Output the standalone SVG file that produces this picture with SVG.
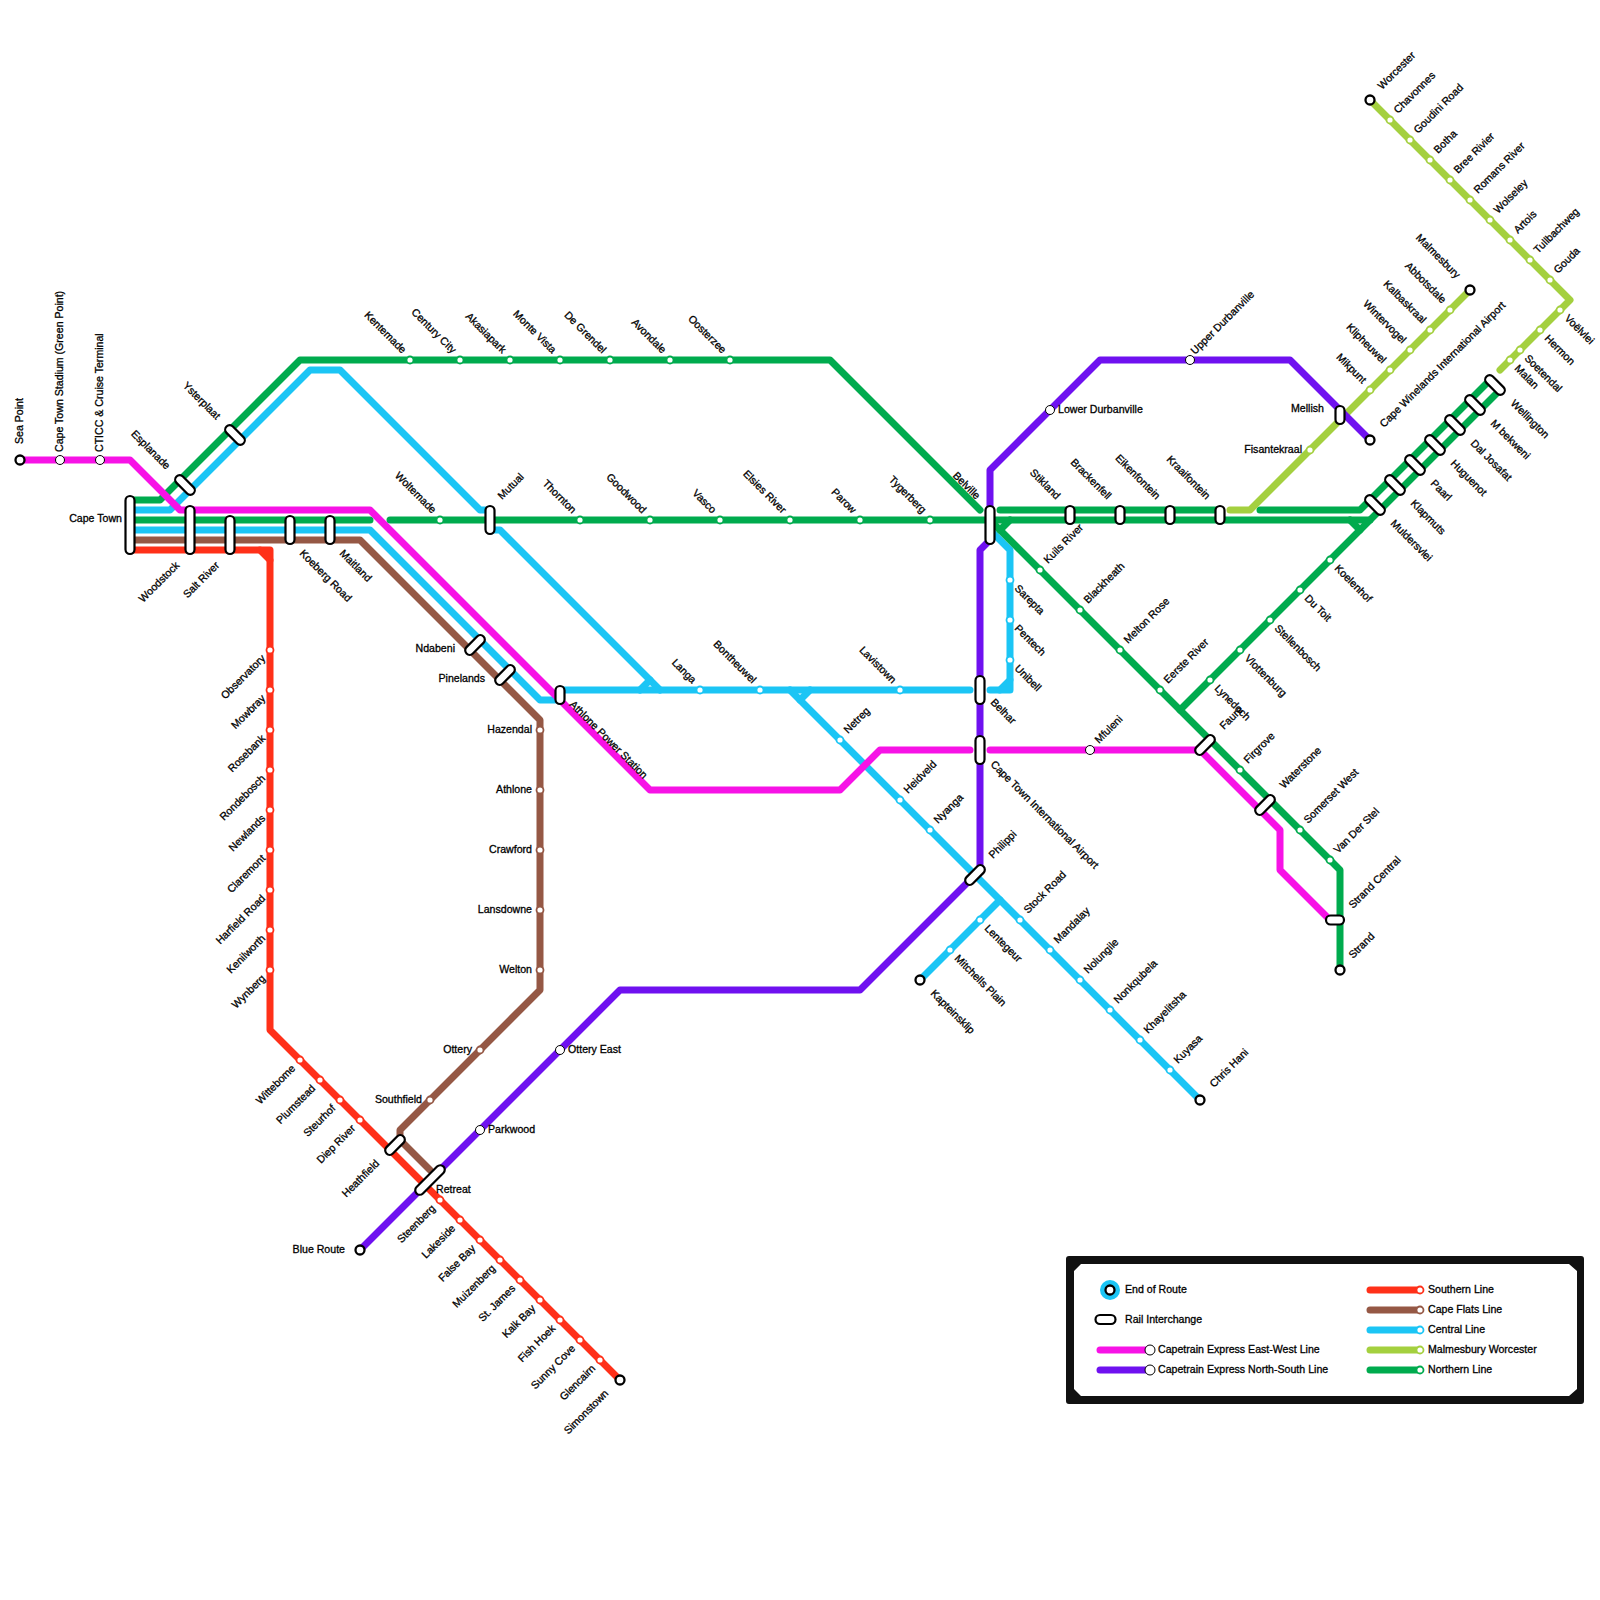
<svg xmlns="http://www.w3.org/2000/svg" width="1600" height="1600" viewBox="0 0 1600 1600">
<style>
text{font-family:"Liberation Sans",Arial,sans-serif;font-size:10.6px;fill:#000;stroke:#000;stroke-width:.3}
.e{text-anchor:end}
.l{fill:none;stroke-width:7;stroke-linecap:round;stroke-linejoin:round}
.M{stroke:#f712e6}.P{stroke:#6f11f0}.R{stroke:#ff3019}.B{stroke:#955845}.C{stroke:#1bc5f5}.L{stroke:#a4d03f}.G{stroke:#00ab4e}
.s{fill:#fff;stroke-width:1.8;r:3.5px}
.w{fill:#fff;stroke:#000;stroke-width:1}
.t{fill:#fff;stroke:#000;stroke-width:2.3;r:4.5px}
.p{fill:#fff;stroke:#000;stroke-width:2.2}
</style>
<rect width="1600" height="1600" fill="#fff"/>
<g id="connectors">
<g class="l C">
<polyline points="130,510 170,510 310,370 340,370 480,510 490,510"/>
<polyline points="490,530 500,530 660,690"/>
<polyline points="640,690 650,680"/>
<polyline points="130,530 370,530 540,700 555,700"/>
<polyline points="560,690 970,690"/>
<polyline points="990,690 1000,690 1010,680 1010,550 990,530"/>
<polyline points="1000,690 1010,690 1010,680"/>
<polyline points="790,690 1200,1100"/>
<polyline points="800,700 810,690"/>
<polyline points="1000,900 920,980"/>
</g>
<g class="l G">
<polyline points="130,500 160,500 300,360 830,360 980,510"/>
<polyline points="130,520 370,520"/>
<polyline points="390,520 1370,520"/>
<polyline points="1000,510 1220,510"/>
<polyline points="1260,510 1360,510 1490,380"/>
<polyline points="990,520 1340,870 1340,970"/>
<polyline points="1180,710 1500,390"/>
<polyline points="1000,530 1010,520"/>
<polyline points="1350,520 1360,530"/>
</g>
<g class="l L">
<polyline points="1370,100 1570,300 1500,370"/>
<polyline points="1470,290 1250,510 1230,510"/>
</g>
<g class="l B"><polyline points="130,540 360,540 540,720 540,990 400,1130 400,1140 430,1170"/></g>
<g class="l R">
<polyline points="130,550 260,550 270,560 270,1030 620,1380"/>
<polyline points="260,550 270,550 270,560"/>
</g>
<g class="l P">
<polyline points="360,1250 620,990 860,990 980,870 980,550 990,540"/>
<polyline points="990,520 990,470 1100,360 1290,360 1370,440"/>
</g>
<g class="l M">
<polyline points="20,460 130,460 180,510 370,510 650,790 840,790 880,750 970,750"/>
<polyline points="990,750 1200,750 1280,830 1280,870 1330,920"/>
</g>
</g>

<g id="n-sea-point"><circle class="t" cx="20" cy="460" r="4"/><text transform="translate(23 444) rotate(-90)">Sea Point</text></g>
<g id="n-stadium"><circle class="w" cx="60" cy="460" r="4.5"/><text transform="translate(63 452) rotate(-90)">Cape Town Stadium (Green Point)</text></g>
<g id="n-cticc"><circle class="w" cx="100" cy="460" r="4.5"/><text transform="translate(103 452) rotate(-90)">CTICC &amp; Cruise Terminal</text></g>
<g id="n-cape-town"><rect class="p" x="125.5" y="496" width="9" height="58" rx="4.5"/><text class="e" x="122" y="522">Cape Town</text></g>
<g id="n-esplanade"><rect class="p" transform="translate(185 485) rotate(45)" x="-12" y="-4.5" width="24" height="9" rx="4.5"/><text class="e" transform="translate(166 470) rotate(45)">Esplanade</text></g>
<g id="n-ysterplaat"><rect class="p" transform="translate(235 435) rotate(45)" x="-12" y="-4.5" width="24" height="9" rx="4.5"/><text class="e" transform="translate(216 420) rotate(45)">Ysterplaat</text></g>
<g id="n-woodstock"><rect class="p" x="185.5" y="506" width="9" height="48" rx="4.5"/><text class="e" transform="translate(180 566) rotate(-45)">Woodstock</text></g>
<g id="n-salt-river"><rect class="p" x="225.5" y="516" width="9" height="38" rx="4.5"/><text class="e" transform="translate(220 566) rotate(-45)">Salt River</text></g>
<g id="n-koeberg"><rect class="p" x="285.5" y="516" width="9" height="28" rx="4.5"/><text transform="translate(299 554) rotate(45)">Koeberg Road</text></g>
<g id="n-maitland"><rect class="p" x="325.5" y="516" width="9" height="28" rx="4.5"/><text transform="translate(339 554) rotate(45)">Maitland</text></g>
<g id="n-ndabeni"><rect class="p" transform="translate(475 645) rotate(-45)" x="-12" y="-4.5" width="24" height="9" rx="4.5"/><text class="e" x="455" y="652">Ndabeni</text></g>
<g id="n-pinelands"><rect class="p" transform="translate(505 675) rotate(-45)" x="-12" y="-4.5" width="24" height="9" rx="4.5"/><text class="e" x="485" y="682">Pinelands</text></g>
<g id="n-athlone-ps"><rect class="p" x="555.5" y="686" width="9" height="18" rx="4.5"/><text transform="translate(569 705) rotate(45)">Athlone Power Station</text></g>
<g id="n-mutual"><rect class="p" x="485.5" y="506" width="9" height="28" rx="4.5"/><text transform="translate(502 500) rotate(-45)">Mutual</text></g>

<g id="n-hazendal"><circle class="s B" cx="540" cy="730" r="3"/><text class="e" x="532" y="733">Hazendal</text></g>
<g id="n-athlone"><circle class="s B" cx="540" cy="790" r="3"/><text class="e" x="532" y="793">Athlone</text></g>
<g id="n-crawford"><circle class="s B" cx="540" cy="850" r="3"/><text class="e" x="532" y="853">Crawford</text></g>
<g id="n-lansdowne"><circle class="s B" cx="540" cy="910" r="3"/><text class="e" x="532" y="913">Lansdowne</text></g>
<g id="n-welton"><circle class="s B" cx="540" cy="970" r="3"/><text class="e" x="532" y="973">Welton</text></g>
<g id="n-ottery"><circle class="s B" cx="480" cy="1050" r="3"/><text class="e" x="472" y="1053">Ottery</text></g>
<g id="n-southfield"><circle class="s B" cx="430" cy="1100" r="3"/><text class="e" x="422" y="1103">Southfield</text></g>

<g id="n-observatory"><circle class="s R" cx="270" cy="650" r="3"/><text class="e" transform="translate(266 659) rotate(-45)">Observatory</text></g>
<g id="n-mowbray"><circle class="s R" cx="270" cy="690" r="3"/><text class="e" transform="translate(266 699) rotate(-45)">Mowbray</text></g>
<g id="n-rosebank"><circle class="s R" cx="270" cy="730" r="3"/><text class="e" transform="translate(266 739) rotate(-45)">Rosebank</text></g>
<g id="n-rondebosch"><circle class="s R" cx="270" cy="770" r="3"/><text class="e" transform="translate(266 779) rotate(-45)">Rondebosch</text></g>
<g id="n-newlands"><circle class="s R" cx="270" cy="810" r="3"/><text class="e" transform="translate(266 819) rotate(-45)">Newlands</text></g>
<g id="n-claremont"><circle class="s R" cx="270" cy="850" r="3"/><text class="e" transform="translate(266 859) rotate(-45)">Claremont</text></g>
<g id="n-harfield"><circle class="s R" cx="270" cy="890" r="3"/><text class="e" transform="translate(266 899) rotate(-45)">Harfield Road</text></g>
<g id="n-kenilworth"><circle class="s R" cx="270" cy="930" r="3"/><text class="e" transform="translate(266 939) rotate(-45)">Kenilworth</text></g>
<g id="n-wynberg"><circle class="s R" cx="270" cy="970" r="3"/><text class="e" transform="translate(266 979) rotate(-45)">Wynberg</text></g>
<g id="n-wittebome"><circle class="s R" cx="300" cy="1060" r="3"/><text class="e" transform="translate(296 1069) rotate(-45)">Wittebome</text></g>
<g id="n-plumstead"><circle class="s R" cx="320" cy="1080" r="3"/><text class="e" transform="translate(316 1089) rotate(-45)">Plumstead</text></g>
<g id="n-steurhof"><circle class="s R" cx="340" cy="1100" r="3"/><text class="e" transform="translate(336 1109) rotate(-45)">Steurhof</text></g>
<g id="n-diep-river"><circle class="s R" cx="360" cy="1120" r="3"/><text class="e" transform="translate(356 1129) rotate(-45)">Diep River</text></g>
<g id="n-heathfield"><rect class="p" transform="translate(395 1145) rotate(-45)" x="-12" y="-4.5" width="24" height="9" rx="4.5"/><text class="e" transform="translate(380 1164) rotate(-45)">Heathfield</text></g>
<g id="n-retreat"><rect class="p" transform="translate(430 1180) rotate(-45)" x="-19" y="-4.5" width="38" height="9" rx="4.5"/><text x="436" y="1193">Retreat</text></g>
<g id="n-steenberg"><circle class="s R" cx="440" cy="1200" r="3"/><text class="e" transform="translate(436 1209) rotate(-45)">Steenberg</text></g>
<g id="n-lakeside"><circle class="s R" cx="460" cy="1220" r="3"/><text class="e" transform="translate(456 1229) rotate(-45)">Lakeside</text></g>
<g id="n-false-bay"><circle class="s R" cx="480" cy="1240" r="3"/><text class="e" transform="translate(476 1249) rotate(-45)">False Bay</text></g>
<g id="n-muizenberg"><circle class="s R" cx="500" cy="1260" r="3"/><text class="e" transform="translate(496 1269) rotate(-45)">Muizenberg</text></g>
<g id="n-st-james"><circle class="s R" cx="520" cy="1280" r="3"/><text class="e" transform="translate(516 1289) rotate(-45)">St. James</text></g>
<g id="n-kalk-bay"><circle class="s R" cx="540" cy="1300" r="3"/><text class="e" transform="translate(536 1309) rotate(-45)">Kalk Bay</text></g>
<g id="n-fish-hoek"><circle class="s R" cx="560" cy="1320" r="3"/><text class="e" transform="translate(556 1329) rotate(-45)">Fish Hoek</text></g>
<g id="n-sunny-cove"><circle class="s R" cx="580" cy="1340" r="3"/><text class="e" transform="translate(576 1349) rotate(-45)">Sunny Cove</text></g>
<g id="n-glencairn"><circle class="s R" cx="600" cy="1360" r="3"/><text class="e" transform="translate(596 1369) rotate(-45)">Glencairn</text></g>
<g id="n-simonstown"><circle class="t" cx="620" cy="1380" r="4"/><text class="e" transform="translate(609 1394) rotate(-45)">Simonstown</text></g>

<g id="n-blue-route"><circle class="t" cx="360" cy="1250" r="4"/><text class="e" x="345" y="1253">Blue Route</text></g>
<g id="n-parkwood"><circle class="w" cx="480" cy="1130" r="4.5"/><text x="488" y="1133">Parkwood</text></g>
<g id="n-ottery-east"><circle class="w" cx="560" cy="1050" r="4.5"/><text x="568" y="1053">Ottery East</text></g>
<g id="n-lower-durbanville"><circle class="w" cx="1050" cy="410" r="4.5"/><text x="1058" y="413">Lower Durbanville</text></g>
<g id="n-upper-durbanville"><circle class="w" cx="1190" cy="360" r="4.5"/><text transform="translate(1195 355) rotate(-45)">Upper Durbanville</text></g>
<g id="n-cwia"><circle class="t" cx="1370" cy="440" r="4"/><text transform="translate(1384 428) rotate(-45)">Cape Winelands International Airport</text></g>
<g id="n-mellish"><rect class="p" x="1335.5" y="406" width="9" height="18" rx="4.5"/><text class="e" x="1324" y="412">Mellish</text></g>

<g id="n-kentemade"><circle class="s G" cx="410" cy="360" r="3"/><text class="e" transform="translate(402 354) rotate(45)">Kentemade</text></g>
<g id="n-century-city"><circle class="s G" cx="460" cy="360" r="3"/><text class="e" transform="translate(452 354) rotate(45)">Century City</text></g>
<g id="n-akasiapark"><circle class="s G" cx="510" cy="360" r="3"/><text class="e" transform="translate(502 354) rotate(45)">Akasiapark</text></g>
<g id="n-monte-vista"><circle class="s G" cx="560" cy="360" r="3"/><text class="e" transform="translate(552 354) rotate(45)">Monte Vista</text></g>
<g id="n-de-grendel"><circle class="s G" cx="610" cy="360" r="3"/><text class="e" transform="translate(602 354) rotate(45)">De Grendel</text></g>
<g id="n-avondale"><circle class="s G" cx="670" cy="360" r="3"/><text class="e" transform="translate(662 354) rotate(45)">Avondale</text></g>
<g id="n-oosterzee"><circle class="s G" cx="730" cy="360" r="3"/><text class="e" transform="translate(722 354) rotate(45)">Oosterzee</text></g>
<g id="n-woltemade"><circle class="s G" cx="440" cy="520" r="3"/><text class="e" transform="translate(432 514) rotate(45)">Woltemade</text></g>
<g id="n-thornton"><circle class="s G" cx="580" cy="520" r="3"/><text class="e" transform="translate(572 514) rotate(45)">Thornton</text></g>
<g id="n-goodwood"><circle class="s G" cx="650" cy="520" r="3"/><text class="e" transform="translate(642 514) rotate(45)">Goodwood</text></g>
<g id="n-vasco"><circle class="s G" cx="720" cy="520" r="3"/><text class="e" transform="translate(712 514) rotate(45)">Vasco</text></g>
<g id="n-elsies"><circle class="s G" cx="790" cy="520" r="3"/><text class="e" transform="translate(782 514) rotate(45)">Elsies River</text></g>
<g id="n-parow"><circle class="s G" cx="860" cy="520" r="3"/><text class="e" transform="translate(852 514) rotate(45)">Parow</text></g>
<g id="n-tygerberg"><circle class="s G" cx="930" cy="520" r="3"/><text class="e" transform="translate(922 514) rotate(45)">Tygerberg</text></g>
<g id="n-belville"><rect class="p" x="985.5" y="506" width="9" height="38" rx="4.5"/><text class="e" transform="translate(976 500) rotate(45)">Belville</text></g>
<g id="n-stikland"><rect class="p" x="1065.5" y="506" width="9" height="18" rx="4.5"/><text class="e" transform="translate(1056 500) rotate(45)">Stikland</text></g>
<g id="n-brackenfell"><rect class="p" x="1115.5" y="506" width="9" height="18" rx="4.5"/><text class="e" transform="translate(1107 500) rotate(45)">Brackenfell</text></g>
<g id="n-eikenfontein"><rect class="p" x="1165.5" y="506" width="9" height="18" rx="4.5"/><text class="e" transform="translate(1156 500) rotate(45)">Eikenfontein</text></g>
<g id="n-kraaifontein"><rect class="p" x="1215.5" y="506" width="9" height="18" rx="4.5"/><text class="e" transform="translate(1206 500) rotate(45)">Kraaifontein</text></g>

<g id="n-kuils"><circle class="s G" cx="1040" cy="570" r="3"/><text transform="translate(1048 564) rotate(-45)">Kuils River</text></g>
<g id="n-blackheath"><circle class="s G" cx="1080" cy="610" r="3"/><text transform="translate(1088 604) rotate(-45)">Blackheath</text></g>
<g id="n-melton"><circle class="s G" cx="1120" cy="650" r="3"/><text transform="translate(1128 644) rotate(-45)">Melton Rose</text></g>
<g id="n-eerste"><circle class="s G" cx="1160" cy="690" r="3"/><text transform="translate(1168 684) rotate(-45)">Eerste River</text></g>
<g id="n-faure"><rect class="p" transform="translate(1205 745) rotate(-45)" x="-12" y="-4.5" width="24" height="9" rx="4.5"/><text transform="translate(1224 730) rotate(-45)">Faure</text></g>
<g id="n-firgrove"><circle class="s G" cx="1240" cy="770" r="3"/><text transform="translate(1248 764) rotate(-45)">Firgrove</text></g>
<g id="n-waterstone"><rect class="p" transform="translate(1265 805) rotate(-45)" x="-12" y="-4.5" width="24" height="9" rx="4.5"/><text transform="translate(1284 789) rotate(-45)">Waterstone</text></g>
<g id="n-somerset"><circle class="s G" cx="1300" cy="830" r="3"/><text transform="translate(1308 824) rotate(-45)">Somerset West</text></g>
<g id="n-vds"><circle class="s G" cx="1330" cy="860" r="3"/><text transform="translate(1338 854) rotate(-45)">Van Der Stel</text></g>
<g id="n-strand-central"><rect class="p" x="1326" y="915.5" width="18" height="9" rx="4.5"/><text transform="translate(1353 909) rotate(-45)">Strand Central</text></g>
<g id="n-strand"><circle class="t" cx="1340" cy="970" r="4"/><text transform="translate(1353 959) rotate(-45)">Strand</text></g>
<g id="n-koelenhof"><circle class="s G" cx="1330" cy="560" r="3"/><text transform="translate(1334 569) rotate(45)">Koelenhof</text></g>
<g id="n-du-toit"><circle class="s G" cx="1300" cy="590" r="3"/><text transform="translate(1304 599) rotate(45)">Du Toit</text></g>
<g id="n-stellenbosch"><circle class="s G" cx="1270" cy="620" r="3"/><text transform="translate(1274 629) rotate(45)">Stellenbosch</text></g>
<g id="n-vlottenburg"><circle class="s G" cx="1240" cy="650" r="3"/><text transform="translate(1244 659) rotate(45)">Vlottenburg</text></g>
<g id="n-lynedoch"><circle class="s G" cx="1210" cy="680" r="3"/><text transform="translate(1214 689) rotate(45)">Lynedoch</text></g>
<g id="n-muldersvlei"><rect class="p" transform="translate(1375 505) rotate(45)" x="-12" y="-4.5" width="24" height="9" rx="4.5"/><text transform="translate(1390 524) rotate(45)">Muldersvlei</text></g>
<g id="n-klapmuts"><rect class="p" transform="translate(1395 485) rotate(45)" x="-12" y="-4.5" width="24" height="9" rx="4.5"/><text transform="translate(1410 504) rotate(45)">Klapmuts</text></g>
<g id="n-paarl"><rect class="p" transform="translate(1415 465) rotate(45)" x="-12" y="-4.5" width="24" height="9" rx="4.5"/><text transform="translate(1430 484) rotate(45)">Paarl</text></g>
<g id="n-huguenot"><rect class="p" transform="translate(1435 445) rotate(45)" x="-12" y="-4.5" width="24" height="9" rx="4.5"/><text transform="translate(1450 464) rotate(45)">Huguenot</text></g>
<g id="n-dal-josafat"><rect class="p" transform="translate(1455 425) rotate(45)" x="-12" y="-4.5" width="24" height="9" rx="4.5"/><text transform="translate(1470 444) rotate(45)">Dal Josafat</text></g>
<g id="n-mbekweni"><rect class="p" transform="translate(1475 405) rotate(45)" x="-12" y="-4.5" width="24" height="9" rx="4.5"/><text transform="translate(1490 424) rotate(45)">M bekweni</text></g>
<g id="n-wellington"><rect class="p" transform="translate(1495 385) rotate(45)" x="-12" y="-4.5" width="24" height="9" rx="4.5"/><text transform="translate(1510 404) rotate(45)">Wellington</text></g>

<g id="n-malan"><circle class="s L" cx="1510" cy="360" r="3"/><text transform="translate(1514 369) rotate(45)">Malan</text></g>
<g id="n-soetendal"><circle class="s L" cx="1520" cy="350" r="3"/><text transform="translate(1524 359) rotate(45)">Soetendal</text></g>
<g id="n-hermon"><circle class="s L" cx="1540" cy="330" r="3"/><text transform="translate(1544 339) rotate(45)">Hermon</text></g>
<g id="n-voelvlei"><circle class="s L" cx="1560" cy="310" r="3"/><text transform="translate(1564 319) rotate(45)">Voëlvlei</text></g>
<g id="n-worcester"><circle class="t" cx="1370" cy="100" r="4"/><text transform="translate(1382 90) rotate(-45)">Worcester</text></g>
<g id="n-chavonnes"><circle class="s L" cx="1390" cy="120" r="3"/><text transform="translate(1398 114) rotate(-45)">Chavonnes</text></g>
<g id="n-goudini"><circle class="s L" cx="1410" cy="140" r="3"/><text transform="translate(1418 134) rotate(-45)">Goudini Road</text></g>
<g id="n-botha"><circle class="s L" cx="1430" cy="160" r="3"/><text transform="translate(1438 154) rotate(-45)">Botha</text></g>
<g id="n-bree"><circle class="s L" cx="1450" cy="180" r="3"/><text transform="translate(1458 174) rotate(-45)">Bree Rivier</text></g>
<g id="n-romans"><circle class="s L" cx="1470" cy="200" r="3"/><text transform="translate(1478 194) rotate(-45)">Romans River</text></g>
<g id="n-wolseley"><circle class="s L" cx="1490" cy="220" r="3"/><text transform="translate(1498 214) rotate(-45)">Wolseley</text></g>
<g id="n-artois"><circle class="s L" cx="1510" cy="240" r="3"/><text transform="translate(1518 234) rotate(-45)">Artois</text></g>
<g id="n-tullbachweg"><circle class="s L" cx="1530" cy="260" r="3"/><text transform="translate(1538 254) rotate(-45)">Tullbachweg</text></g>
<g id="n-gouda"><circle class="s L" cx="1550" cy="280" r="3"/><text transform="translate(1558 274) rotate(-45)">Gouda</text></g>
<g id="n-malmesbury"><circle class="t" cx="1470" cy="290" r="4"/><text class="e" transform="translate(1456 279) rotate(45)">Malmesbury</text></g>
<g id="n-abbotsdale"><circle class="s L" cx="1450" cy="310" r="3"/><text class="e" transform="translate(1442 304) rotate(45)">Abbotsdale</text></g>
<g id="n-kalbaskraal"><circle class="s L" cx="1430" cy="330" r="3"/><text class="e" transform="translate(1422 324) rotate(45)">Kalbaskraal</text></g>
<g id="n-wintervogel"><circle class="s L" cx="1410" cy="350" r="3"/><text class="e" transform="translate(1402 344) rotate(45)">Wintervogel</text></g>
<g id="n-klipheuwel"><circle class="s L" cx="1390" cy="370" r="3"/><text class="e" transform="translate(1382 364) rotate(45)">Klipheuwel</text></g>
<g id="n-mikpunt"><circle class="s L" cx="1370" cy="390" r="3"/><text class="e" transform="translate(1362 384) rotate(45)">Mikpunt</text></g>
<g id="n-fisantekraal"><circle class="s L" cx="1310" cy="450" r="3"/><text class="e" x="1302" y="453">Fisantekraal</text></g>

<g id="n-belhar"><rect class="p" x="975.5" y="676" width="9" height="28" rx="4.5"/><text transform="translate(990 703) rotate(45)">Belhar</text></g>
<g id="n-ctia"><rect class="p" x="975.5" y="736" width="9" height="28" rx="4.5"/><text transform="translate(990 765) rotate(45)">Cape Town International Airport</text></g>
<g id="n-mfuleni"><circle class="w" cx="1090" cy="750" r="4.5"/><text transform="translate(1099 744) rotate(-45)">Mfuleni</text></g>
<g id="n-sarepta"><circle class="s C" cx="1010" cy="580" r="3"/><text transform="translate(1014 589) rotate(45)">Sarepta</text></g>
<g id="n-pentech"><circle class="s C" cx="1010" cy="620" r="3"/><text transform="translate(1014 629) rotate(45)">Pentech</text></g>
<g id="n-unibell"><circle class="s C" cx="1010" cy="660" r="3"/><text transform="translate(1014 669) rotate(45)">Unibell</text></g>
<g id="n-langa"><circle class="s C" cx="700" cy="690" r="3"/><text class="e" transform="translate(692 684) rotate(45)">Langa</text></g>
<g id="n-bontheuwel"><circle class="s C" cx="760" cy="690" r="3"/><text class="e" transform="translate(752 684) rotate(45)">Bontheuwel</text></g>
<g id="n-lavistown"><circle class="s C" cx="900" cy="690" r="3"/><text class="e" transform="translate(892 684) rotate(45)">Lavistown</text></g>
<g id="n-netreg"><circle class="s C" cx="840" cy="740" r="3"/><text transform="translate(848 734) rotate(-45)">Netreg</text></g>
<g id="n-heidveld"><circle class="s C" cx="900" cy="800" r="3"/><text transform="translate(908 794) rotate(-45)">Heidveld</text></g>
<g id="n-nyanga"><circle class="s C" cx="930" cy="830" r="3"/><text transform="translate(938 824) rotate(-45)">Nyanga</text></g>
<g id="n-philippi"><rect class="p" transform="translate(975 875) rotate(-45)" x="-12" y="-4.5" width="24" height="9" rx="4.5"/><text transform="translate(993 859) rotate(-45)">Philippi</text></g>
<g id="n-stock"><circle class="s C" cx="1020" cy="920" r="3"/><text transform="translate(1028 914) rotate(-45)">Stock Road</text></g>
<g id="n-mandalay"><circle class="s C" cx="1050" cy="950" r="3"/><text transform="translate(1058 944) rotate(-45)">Mandalay</text></g>
<g id="n-nolungile"><circle class="s C" cx="1080" cy="980" r="3"/><text transform="translate(1088 974) rotate(-45)">Nolungile</text></g>
<g id="n-nonkqubela"><circle class="s C" cx="1110" cy="1010" r="3"/><text transform="translate(1118 1004) rotate(-45)">Nonkqubela</text></g>
<g id="n-khayelitsha"><circle class="s C" cx="1140" cy="1040" r="3"/><text transform="translate(1148 1034) rotate(-45)">Khayelitsha</text></g>
<g id="n-kuyasa"><circle class="s C" cx="1170" cy="1070" r="3"/><text transform="translate(1178 1064) rotate(-45)">Kuyasa</text></g>
<g id="n-chris-hani"><circle class="t" cx="1200" cy="1100" r="4"/><text transform="translate(1214 1088) rotate(-45)">Chris Hani</text></g>
<g id="n-lentegeur"><circle class="s C" cx="980" cy="920" r="3"/><text transform="translate(984 929) rotate(45)">Lentegeur</text></g>
<g id="n-mitchells"><circle class="s C" cx="950" cy="950" r="3"/><text transform="translate(954 959) rotate(45)">Mitchells Plain</text></g>
<g id="n-kapteinsklip"><circle class="t" cx="920" cy="980" r="4"/><text transform="translate(930 994) rotate(45)">Kapteinsklip</text></g>

<g id="legend">
<path fill="#111" fill-rule="evenodd" d="M1069 1256H1581Q1584 1256 1584 1259V1401Q1584 1404 1581 1404H1069Q1066 1404 1066 1401V1259Q1066 1256 1069 1256ZM1081 1264L1074 1271V1389L1081 1396H1569L1577 1389V1271L1569 1264Z"/>
<circle cx="1110" cy="1290" r="10" fill="#1bc5f5"/><circle class="t" cx="1110" cy="1290" r="4"/><text x="1125" y="1293">End of Route</text>
<rect x="1095.5" y="1315" width="20" height="9" rx="4.5" class="p"/><text x="1125" y="1323">Rail Interchange</text>
<line class="l M" x1="1100" y1="1350" x2="1150" y2="1350"/><circle class="w" cx="1150" cy="1350" r="5"/><text x="1158" y="1353">Capetrain Express East-West Line</text>
<line class="l P" x1="1100" y1="1370" x2="1150" y2="1370"/><circle class="w" cx="1150" cy="1370" r="5"/><text x="1158" y="1373">Capetrain Express North-South Line</text>
<line class="l R" x1="1370" y1="1290" x2="1420" y2="1290"/><circle class="s R" cx="1420" cy="1290" r="3"/><text x="1428" y="1293">Southern Line</text>
<line class="l B" x1="1370" y1="1310" x2="1420" y2="1310"/><circle class="s B" cx="1420" cy="1310" r="3"/><text x="1428" y="1313">Cape Flats Line</text>
<line class="l C" x1="1370" y1="1330" x2="1420" y2="1330"/><circle class="s C" cx="1420" cy="1330" r="3"/><text x="1428" y="1333">Central Line</text>
<line class="l L" x1="1370" y1="1350" x2="1420" y2="1350"/><circle class="s L" cx="1420" cy="1350" r="3"/><text x="1428" y="1353">Malmesbury Worcester</text>
<line class="l G" x1="1370" y1="1370" x2="1420" y2="1370"/><circle class="s G" cx="1420" cy="1370" r="3"/><text x="1428" y="1373">Northern Line</text>
</g>
</svg>
